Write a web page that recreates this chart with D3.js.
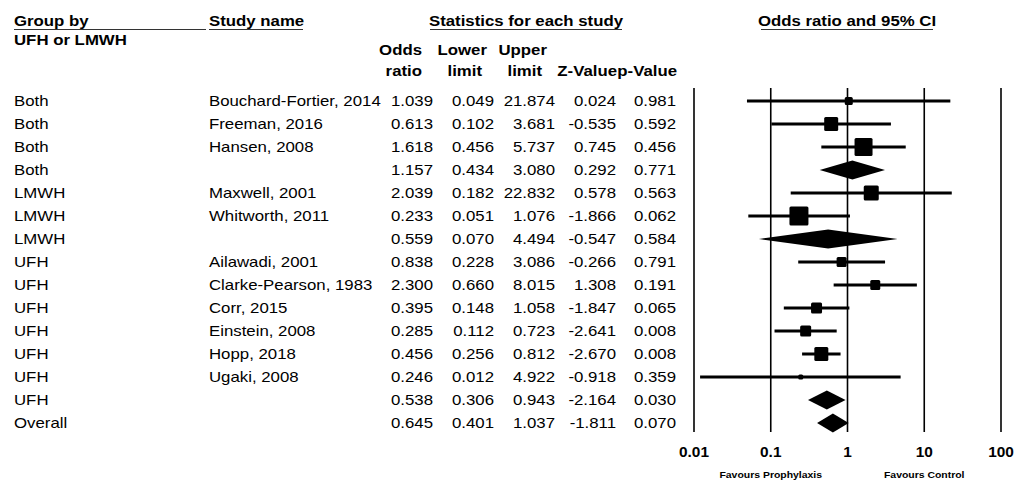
<!DOCTYPE html>
<html>
<head>
<meta charset="utf-8">
<script src="https://cdn.jsdelivr.net/npm/d3@7"></script>
<style>
  body { margin: 0; background: #fff; }
  svg text { font-family: "Liberation Sans", Arial, sans-serif; fill: #000; }
  .hd { font-weight: bold; font-size: 14px; }
  .cell { font-size: 14px; }
</style>
</head>
<body>
<div id="chart"></div>
<script>
// rows of the forest plot, top to bottom
var groups = ["Both", "Both", "Both", "Both", "LMWH", "LMWH", "LMWH",
  "UFH", "UFH", "UFH", "UFH", "UFH", "UFH", "UFH", "Overall"];
var studies = ["Bouchard-Fortier, 2014", "Freeman, 2016", "Hansen, 2008", "",
  "Maxwell, 2001", "Whitworth, 2011", "",
  "Ailawadi, 2001", "Clarke-Pearson, 1983", "Corr, 2015", "Einstein, 2008",
  "Hopp, 2018", "Ugaki, 2008", "", ""];
var oddsRatio = [1.039, 0.613, 1.618, 1.157, 2.039, 0.233, 0.559,
  0.838, 2.300, 0.395, 0.285, 0.456, 0.246, 0.538, 0.645];
var lowerLimit = [0.049, 0.102, 0.456, 0.434, 0.182, 0.051, 0.070,
  0.228, 0.660, 0.148, 0.112, 0.256, 0.012, 0.306, 0.401];
var upperLimit = [21.874, 3.681, 5.737, 3.080, 22.832, 1.076, 4.494,
  3.086, 8.015, 1.058, 0.723, 0.812, 4.922, 0.943, 1.037];
var zValue = [0.024, -0.535, 0.745, 0.292, 0.578, -1.866, -0.547,
  -0.266, 1.308, -1.847, -2.641, -2.670, -0.918, -2.164, -1.811];
var pValue = [0.981, 0.592, 0.456, 0.771, 0.563, 0.062, 0.584,
  0.791, 0.191, 0.065, 0.008, 0.008, 0.359, 0.030, 0.070];
// relative weight of each study (0 = summary row, drawn as a diamond)
var relWeight = [64, 196, 324, 0, 225, 361, 0,
  100, 100, 121, 121, 196, 25, 0, 0];
var axisTicks = [0.01, 0.1, 1, 10, 100];

var width = 1015, height = 483;
// the reference text is drawn a bit wider than the font's natural width
var stretch = 1.2;

var svg = d3.select("#chart").append("svg")
  .attr("width", width)
  .attr("height", height);

svg.append("rect").attr("width", width).attr("height", height).attr("fill", "#fff");

var rows = d3.range(groups.length);

// vertical placement of rows
var y = d3.scalePoint().domain(rows).range([101, 423]);

// log scale for odds ratio
var x = d3.scaleLog().domain([0.01, 100]).range([694, 1001]);

// square side from weight
var side = d3.scaleSqrt().domain([0, 361]).range([0, 19]);

// text placed at (xpos, ypos), stretched horizontally
function label(cls, txt, xpos, ypos, anchor, sx, dy) {
  return svg.append("text").attr("class", cls)
    .attr("transform", "translate(" + xpos + "," + ypos + ") scale(" + (sx || stretch) + ",1)")
    .attr("text-anchor", anchor || "start")
    .attr("dy", dy || 0)
    .text(txt);
}
function underline(x1, x2, ypos) {
  svg.append("line").attr("x1", x1).attr("x2", x2)
    .attr("y1", ypos).attr("y2", ypos)
    .attr("stroke", "#333").attr("stroke-width", 1.2);
}

// ---- headers ----
label("hd", "Group by", 14, 26);
underline(14, 206, 29.5);
label("hd", "UFH or LMWH", 14, 45);
label("hd", "Study name", 209, 26);
underline(209, 303, 29.5);
label("hd", "Statistics for each study", 526, 26, "middle");
underline(430, 622, 29.5);
label("hd", "Odds ratio and 95% CI", 847, 26, "middle");
underline(761, 933, 29.5);

var hdLine1 = ["Odds", "Lower", "Upper"];
var hdLine2 = ["ratio", "limit", "limit", "Z-Value", "p-Value"];
var hd1Right = [422, 487, 547];
var hd2Right = [422, 482, 542, 617, 677];
hdLine1.forEach(function(t, i) { label("hd", t, hd1Right[i], 55, "end"); });
hdLine2.forEach(function(t, i) { label("hd", t, hd2Right[i], 76, "end"); });

// ---- table cells ----
var fmt = d3.format(".3f");
var columns = [oddsRatio, lowerLimit, upperLimit, zValue, pValue];
var colRight = [433, 494, 555, 616, 676];

rows.forEach(function(i) {
  label("cell", groups[i], 14, y(i), "start", stretch, "0.35em");
  label("cell", studies[i], 209, y(i), "start", stretch, "0.35em");
  columns.forEach(function(col, c) {
    label("cell", fmt(col[i]).replace("\u2212", "-"), colRight[c], y(i), "end", stretch, "0.35em");
  });
});

// ---- plot: reference lines ----
svg.selectAll(".vline")
  .data(axisTicks)
  .enter()
  .append("line")
  .attr("class", "vline")
  .attr("x1", function(d) { return x(d); })
  .attr("x2", function(d) { return x(d); })
  .attr("y1", 88)
  .attr("y2", 432)
  .attr("stroke", "#000")
  .attr("stroke-width", 1.6);

// tick labels
axisTicks.forEach(function(d) {
  label("hd", String(d), x(d), 452, "middle", 1.1, "0.35em");
});

label("hd", "Favours Prophylaxis", x(0.1), 478, "middle", 1.1).attr("font-size", "9.5px");
label("hd", "Favours Control", x(10), 478, "middle", 1.1).attr("font-size", "9.5px");
svg.selectAll("text").filter(function() { return this.getAttribute("font-size"); })
  .style("font-size", "9.5px");

// ---- plot: studies ----
var studyRows = rows.filter(function(i) { return relWeight[i] > 0; });
var summaryRows = rows.filter(function(i) { return relWeight[i] === 0; });

svg.selectAll(".ci")
  .data(studyRows)
  .enter()
  .append("line")
  .attr("class", "ci")
  .attr("x1", function(i) { return x(lowerLimit[i]); })
  .attr("x2", function(i) { return x(upperLimit[i]); })
  .attr("y1", function(i) { return y(i); })
  .attr("y2", function(i) { return y(i); })
  .attr("stroke", "#000")
  .attr("stroke-width", 3);

svg.selectAll(".box")
  .data(studyRows)
  .enter()
  .append("rect")
  .attr("class", "box")
  .attr("x", function(i) { return x(oddsRatio[i]) - side(relWeight[i]) / 2; })
  .attr("y", function(i) { return y(i) - side(relWeight[i]) / 2; })
  .attr("width", function(i) { return side(relWeight[i]); })
  .attr("height", function(i) { return side(relWeight[i]); })
  .attr("rx", 1.5)
  .attr("fill", "#000");

svg.selectAll(".diamond")
  .data(summaryRows)
  .enter()
  .append("path")
  .attr("class", "diamond")
  .attr("d", function(i) {
    var h = 9.5, cy = y(i);
    return "M" + x(lowerLimit[i]) + "," + cy +
      "L" + x(oddsRatio[i]) + "," + (cy - h) +
      "L" + x(upperLimit[i]) + "," + cy +
      "L" + x(oddsRatio[i]) + "," + (cy + h) + "Z";
  })
  .attr("fill", "#000");
</script>
</body>
</html>
